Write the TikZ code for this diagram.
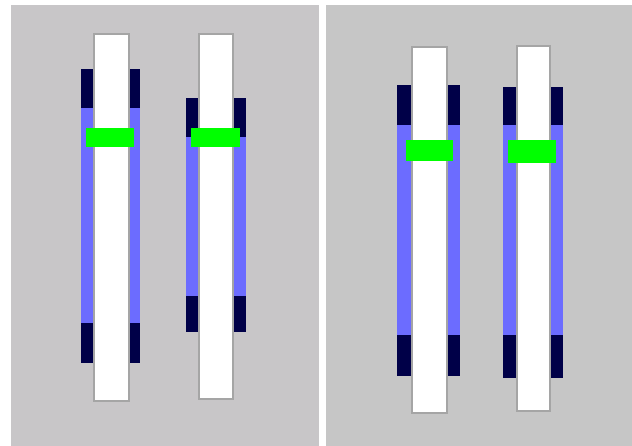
\documentclass[tikz,border=0pt]{standalone}
\definecolor{panelL}{RGB}{200,198,200}
\definecolor{panelR}{RGB}{198,198,198}
\definecolor{trackdark}{RGB}{0,0,72}
\definecolor{trackblue}{RGB}{108,108,255}
\definecolor{knob}{RGB}{0,255,0}
\definecolor{rim}{RGB}{165,165,165}
\tikzset{
  panel/.style={fill=#1, draw=none},
  darkpart/.style={fill=trackdark, draw=none},
  bluepart/.style={fill=trackblue, draw=none},
  stem/.style={fill=white, draw=rim, line width=1.2pt},
  knobbox/.style={fill=knob, draw=none}
}
% one slider: outer x0,x1; track top, blue start, blue end, track bottom;
% stem x0,x1, stem top, stem bottom; knob x0,x1,y0,y1
\newcommand{\slider}[8]{%
  \fill[darkpart] (#1,#3) rectangle (#2,#4);
  \fill[bluepart] (#1,#4) rectangle (#2,#5);
  \fill[darkpart] (#1,#5) rectangle (#2,#6);
  \draw[stem] #7;
  \fill[knobbox] #8;
}
\begin{document}
\begin{tikzpicture}[x=1pt,y=-1pt]
  \useasboundingbox (0,0) rectangle (632,446);
  \fill[white] (0,0) rectangle (632,446);
  \fill[panel=panelL] (11,5) rectangle (319,446);
  \fill[panel=panelR] (326,5) rectangle (632,446);
  % left panel
  \slider{81}{140}{69}{108}{323}{363}{(94,34) rectangle (129,401)}{(86,128) rectangle (134,147)}
  \slider{186}{246}{98}{137}{296}{332}{(199,34) rectangle (233,399)}{(191,128) rectangle (240,147)}
  % right panel
  \slider{397}{460}{85}{125}{335}{376}{(412,47) rectangle (447,413)}{(406,140) rectangle (453,161)}
  \slider{503}{563}{87}{125}{335}{378}{(517,46) rectangle (550,411)}{(508,140) rectangle (556,163)}
\end{tikzpicture}
\end{document}
